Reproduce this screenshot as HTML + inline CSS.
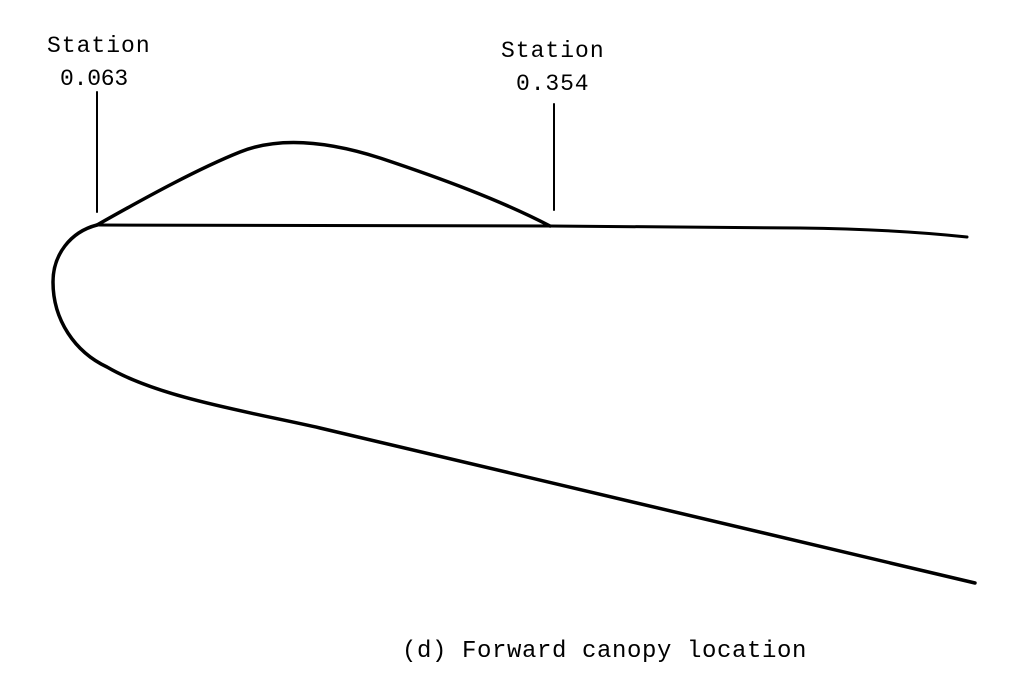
<!DOCTYPE html>
<html><head><style>
html,body{margin:0;padding:0;background:#fff;}
svg{display:block;}
text{font-family:"Liberation Mono",monospace;fill:#000;}
</style></head><body>
<svg width="1024" height="691" viewBox="0 0 1024 691" xmlns="http://www.w3.org/2000/svg">
<g fill="none" stroke="#000" stroke-linecap="round" stroke-linejoin="round">
<line x1="97" y1="92" x2="97" y2="212" stroke-width="2"/>
<line x1="554" y1="104" x2="554" y2="210" stroke-width="2"/>
<path d="M97,225 C150,195 200,168 240,152 C280,136 330,142 380,158 C440,178 500,200 550,226" stroke-width="3.5"/>
<path d="M97,225 L550,226 L800,228 C880,229 930,233 967,237" stroke-width="3"/>
<path d="M97,225 C70,232 53,255 53,282 C53,320 75,352 107,367 C160,398 250,412 320,428 C500,470 700,520 975,583" stroke-width="3.5"/>
</g>
<text x="47" y="52" font-size="23" letter-spacing="1.0">Station</text>
<text x="60" y="85" font-size="23" letter-spacing="-0.2">0.063</text>
<text x="501" y="57" font-size="23" letter-spacing="1.0">Station</text>
<text x="516" y="90" font-size="23" letter-spacing="0.9">0.354</text>
<text x="402" y="657" font-size="24" letter-spacing="0.6">(d) Forward canopy location</text>
</svg>
</body></html>
